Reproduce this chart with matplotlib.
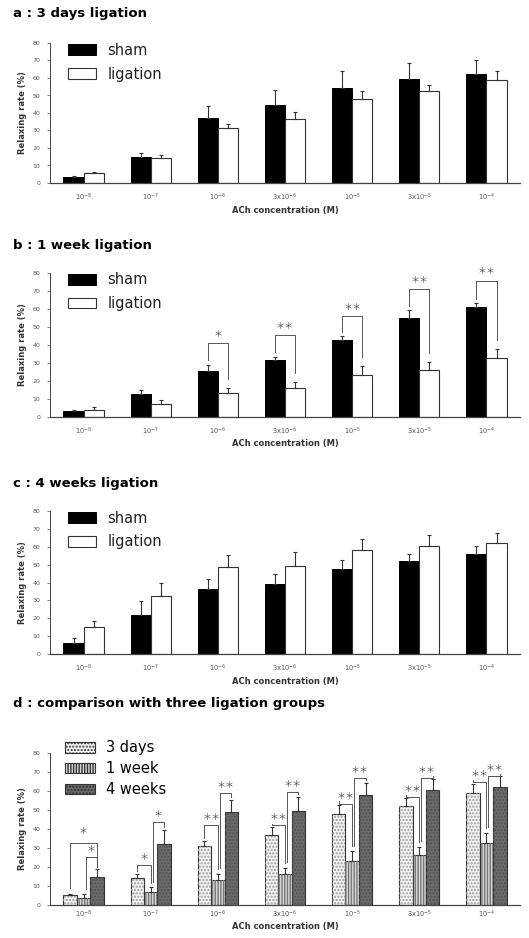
import matplotlib
matplotlib.use("Agg")
import matplotlib.pyplot as plt
from matplotlib.patches import Patch
import numpy as np

# ---------------- data ----------------
conc_labels = ["$10^{-8}$", "$10^{-7}$", "$10^{-6}$", "3x$10^{-6}$",
               "$10^{-5}$", "3x$10^{-5}$", "$10^{-4}$"]

# a : 3 days
sham_a = [3.3, 14.8, 37.2, 44.5, 54.4, 59.7, 62.4]
sham_a_err = [0.6, 2.1, 6.6, 8.4, 9.6, 8.7, 7.7]
lig_a = [5.5, 14.0, 31.3, 36.8, 47.8, 52.3, 58.8]
lig_a_err = [0.5, 2.1, 2.2, 4.0, 4.7, 3.8, 5.0]

# b : 1 week
sham_b = [3.1, 12.6, 25.6, 31.6, 42.8, 55.0, 60.9]
sham_b_err = [0.6, 2.4, 3.5, 2.0, 2.0, 4.3, 2.2]
lig_b = [3.7, 7.0, 13.1, 16.1, 23.1, 26.3, 32.8]
lig_b_err = [1.9, 2.3, 3.2, 3.5, 5.2, 4.4, 5.0]
sig_b = ["", "", "＊", "＊＊", "＊＊", "＊＊", "＊＊"]
bracket_b = [None, None, 40.9, 45.4, 55.9, 70.9, 75.6]

# c : 4 weeks
sham_c = [6.1, 21.7, 36.2, 39.3, 47.7, 52.1, 55.7]
sham_c_err = [2.8, 8.0, 5.5, 5.2, 4.8, 3.7, 4.6]
lig_c = [15.0, 32.3, 48.8, 49.4, 58.1, 60.3, 62.3]
lig_c_err = [3.7, 7.4, 6.5, 7.7, 6.1, 6.1, 5.4]

# d : comparison
d_names = ["3 days", "1 week", "4 weeks"]
d_vals = [lig_a, lig_b, lig_c]
d_errs = [lig_a_err, lig_b_err, lig_c_err]
# brackets 3d vs 1w
sig_d_31 = ["", "＊", "＊＊", "＊＊", "＊＊", "＊＊", "＊＊"]
br_d_31 = [None, 21.0, 41.9, 42.0, 53.2, 56.9, 64.8]
# brackets 1w vs 4w
sig_d_14 = ["＊", "＊", "＊＊", "＊＊", "＊＊", "＊＊", "＊＊"]
br_d_14 = [25.2, 43.7, 58.8, 59.4, 66.9, 66.9, 68.0]
# bracket 3d vs 4w (only lowest conc)
sig_d_34 = ["＊", "", "", "", "", "", ""]
br_d_34 = [32.6, None, None, None, None, None, None]

FONT = ["DejaVu Sans", "Noto Sans CJK JP"]
plt.rcParams['font.family'] = FONT

W, H = 529, 938
fig = plt.figure(figsize=(W / 100, H / 100), dpi=100)

def ax_at(top_px, bot_px):
    left = 50 / W
    width = (520 - 50) / W
    return fig.add_axes([left, 1 - bot_px / H, width, (bot_px - top_px) / H])

def style(ax, xpad=6):
    ax.set_ylim(0, 80)
    ax.set_xlim(-0.5, 6.5)
    ax.set_yticks(range(0, 81, 10))
    ax.spines['top'].set_visible(False)
    ax.spines['right'].set_visible(False)
    ax.spines['left'].set_linewidth(0.7)
    ax.spines['bottom'].set_linewidth(0.9)
    ax.spines['left'].set_color('#444444')
    ax.spines['bottom'].set_color('#444444')
    ax.tick_params(axis='y', labelsize=4.5, length=2, width=0.5,
                   colors='#555555', pad=5)
    ax.tick_params(axis='x', labelsize=4.8, length=0, colors='#555555',
                   pad=xpad)
    ax.set_xticks(range(7))
    ax.set_xticklabels(conc_labels)
    ax.set_ylabel("Relaxing rate (%)", fontsize=6, color='#333333',
                  fontweight='bold', labelpad=4)

def bracket(ax, x1, x2, ytop, y1b, y2b, txt, dy=3.5):
    ax.plot([x1, x1, x2, x2], [y1b, ytop, ytop, y2b], color='#555555',
            lw=0.7, clip_on=False)
    ax.text((x1 + x2) / 2, ytop + dy, txt, ha='center', va='center',
            fontsize=6.5, color='#555555', family=["Noto Sans CJK JP"],
            clip_on=False)

x = np.arange(7)

def two_group(ax, sham, sham_e, lig, lig_e):
    w = 0.3
    ax.bar(x - w / 2, sham, w, color='black', edgecolor='black', lw=0.7,
           yerr=[np.zeros(7), sham_e], capsize=1.5,
           error_kw=dict(elinewidth=0.8, capthick=0.8, ecolor='#333333'),
           label='sham')
    ax.bar(x + w / 2, lig, w, color='white', edgecolor='#333333', lw=0.8,
           yerr=[np.zeros(7), lig_e], capsize=1.5,
           error_kw=dict(elinewidth=0.8, capthick=0.8, ecolor='#333333'),
           label='ligation')
    leg = ax.legend(loc='upper left', bbox_to_anchor=(0.01, 1.095),
                    frameon=False, fontsize=10.5, handlelength=1.9,
                    handleheight=0.75, handletextpad=0.8, labelspacing=0.6)
    for t in leg.get_texts():
        t.set_color('#222222')

title_kw = dict(fontsize=9.5, fontweight='bold', ha='left', va='center')
xl_kw = dict(ha='center', va='center', fontsize=6, fontweight='bold',
             color='#333333')
XC = (50 + 520) / 2 / W

# panel a
fig.text(13 / W, 1 - 13 / H, "a : 3 days ligation", **title_kw)
axa = ax_at(43, 183)
two_group(axa, sham_a, sham_a_err, lig_a, lig_a_err)
style(axa)
fig.text(XC, 1 - 210 / H, "ACh concentration (M)", **xl_kw)

# panel b
fig.text(13 / W, 1 - 245 / H, "b : 1 week ligation", **title_kw)
axb = ax_at(273, 417)
two_group(axb, sham_b, sham_b_err, lig_b, lig_b_err)
style(axb)
for i in range(7):
    if bracket_b[i] is None:
        continue
    bracket(axb, i - 0.15, i + 0.15, bracket_b[i],
            sham_b[i] + sham_b_err[i] + 2.5, lig_b[i] + lig_b_err[i] + 5,
            sig_b[i], dy=5)
fig.text(XC, 1 - 443 / H, "ACh concentration (M)", **xl_kw)

# panel c
fig.text(13 / W, 1 - 483 / H, "c : 4 weeks ligation", **title_kw)
axc = ax_at(511, 654)
two_group(axc, sham_c, sham_c_err, lig_c, lig_c_err)
style(axc)
fig.text(XC, 1 - 681 / H, "ACh concentration (M)", **xl_kw)

# panel d
fig.text(13 / W, 1 - 703 / H, "d : comparison with three ligation groups",
         **title_kw)
axd = ax_at(753, 905)
wd = 0.2
faces = ['#f2f2f2', '#d9d9d9', '#6a6a6a']
hatches = ['.....', '||||||', '.....']
hcols = ['#9a9a9a', '#777777', '#555555']
offs = [-wd, 0, wd]
for k in range(3):
    axd.bar(x + offs[k], d_vals[k], wd, color=faces[k], edgecolor='#333333',
            lw=0.8, yerr=[np.zeros(7), d_errs[k]], capsize=1.5,
            error_kw=dict(elinewidth=0.8, capthick=0.8, ecolor='#333333'),
            label=d_names[k])
    axd.bar(x + offs[k], d_vals[k], wd, color='none', edgecolor=hcols[k],
            lw=0, hatch=hatches[k])
handles = [Patch(facecolor=faces[k], edgecolor='#333333', hatch=hatches[k],
                 lw=0.8) for k in range(3)]
leg = axd.legend(handles, d_names, loc='upper left',
                 bbox_to_anchor=(0.005, 1.17), frameon=False, fontsize=10.5,
                 handlelength=2.0, handleheight=0.75, handletextpad=0.8,
                 labelspacing=0.4)
style(axd, xpad=3)
for i in range(7):
    top3 = d_vals[0][i] + d_errs[0][i]
    top1 = d_vals[1][i] + d_errs[1][i]
    top4 = d_vals[2][i] + d_errs[2][i]
    if br_d_31[i] is not None:
        bracket(axd, i - wd, i, br_d_31[i], top3 + 2, top1 + 2.5,
                sig_d_31[i], dy=4)
    if br_d_14[i] is not None:
        bracket(axd, i + 0.03, i + wd, br_d_14[i], top1 + 3, top4 + 1.5,
                sig_d_14[i], dy=4)
    if br_d_34[i] is not None:
        bracket(axd, i - wd, i + wd, br_d_34[i], top3 + 3, top4 + 2.5,
                sig_d_34[i], dy=6)
fig.text(XC, 1 - 926 / H, "ACh concentration (M)", **xl_kw)

fig.savefig("out.png", dpi=100)
